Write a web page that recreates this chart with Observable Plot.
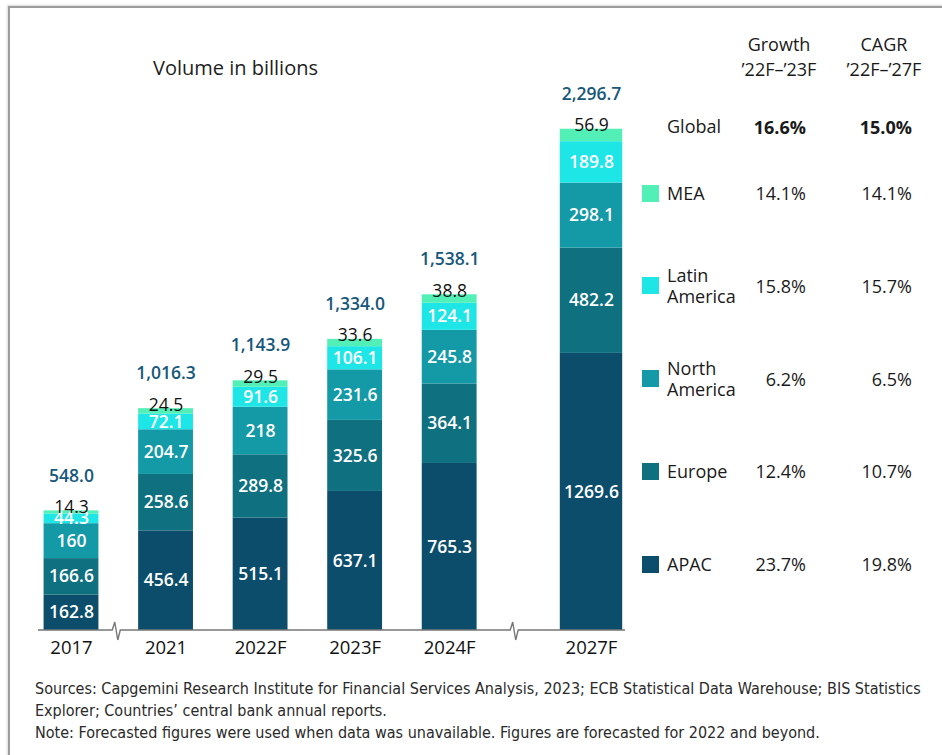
<!DOCTYPE html>
<html>
<head>
<meta charset="utf-8">
<script src="https://cdn.jsdelivr.net/npm/d3@7"></script>
<script src="https://cdn.jsdelivr.net/npm/@observablehq/plot@0.6"></script>
<style>
  html, body { margin: 0; padding: 0; background: #fff; }
  body { font-family: "Open Sans", "DejaVu Sans", sans-serif; color: #1a1a1a; }
  #wrap { position: relative; width: 942px; height: 755px; overflow: hidden; background: #fff; }
  #frame { position: absolute; left: 8px; top: 6px; width: 950px; height: 760px;
           border-left: 2px solid #9c9c9c; border-top: 2px solid #9c9c9c;
           box-shadow: -1px -1px 2px rgba(0,0,0,0.15); }
  #title { position: absolute; left: 153px; top: 54px; font-size: 20px; font-weight: 500; color: #1e1e1e; white-space: nowrap; }
  #chart { position: absolute; left: 0; top: 0; }
  #legend { position: absolute; left: 0; top: 0; width: 942px; height: 660px; }
  .hdr { position: absolute; font-size: 18px; text-align: center; width: 120px; line-height: 25px; color: #1a1a1a; font-weight: 500; }
  .lab { position: absolute; left: 667px; font-size: 18px; line-height: 21px; color: #1a1a1a; white-space: nowrap; font-weight: 500; }
  .val { position: absolute; font-size: 18px; text-align: right; width: 90px; color: #1a1a1a; line-height: 22px; font-weight: 500; }
  .sw  { position: absolute; left: 642px; width: 17px; height: 17px; }
  #notes { position: absolute; left: 35px; top: 678px; font-size: 16px; line-height: 22px; color: #2a2a2a;
           font-family: "DejaVu Sans Condensed", "DejaVu Sans", sans-serif; font-stretch: condensed; white-space: nowrap; }
</style>
</head>
<body>
<div id="wrap">
  <div id="frame"></div>
  <div id="title">Volume in billions</div>
  <div id="chart"></div>
  <div id="legend"></div>
  <div id="notes">Sources: Capgemini Research Institute for Financial Services Analysis, 2023; ECB Statistical Data Warehouse; BIS Statistics<br>Explorer; Countries’ central bank annual reports.<br>Note: Forecasted figures were used when data was unavailable. Figures are forecasted for 2022 and beyond.</div>
</div>
<script>
// ---------------- data ----------------
const years = ["2017", "2021", "2022F", "2023F", "2024F", "2027F"];
const regions = ["APAC", "Europe", "North America", "Latin America", "MEA"];
const apac = [162.8, 456.4, 515.1, 637.1, 765.3, 1269.6];
const europe = [166.6, 258.6, 289.8, 325.6, 364.1, 482.2];
const northAmerica = [160, 204.7, 218, 231.6, 245.8, 298.1];
const latinAmerica = [44.3, 72.1, 91.6, 106.1, 124.1, 189.8];
const mea = [14.3, 24.5, 29.5, 33.6, 38.8, 56.9];
const totals = [548.0, 1016.3, 1143.9, 1334.0, 1538.1, 2296.7];

// legend table (top to bottom)
const legendRegions = ["MEA", "Latin America", "North America", "Europe", "APAC"];
const growth2223 = ["14.1%", "15.8%", "6.2%", "12.4%", "23.7%"];
const cagr2227 = ["14.1%", "15.7%", "6.5%", "10.7%", "19.8%"];
const globalGrowth = "16.6%";
const globalCagr = "15.0%";

const colors = ["#0b4d6b", "#0f707f", "#1499a7", "#1ee6e6", "#52efb6"];
const totalColor = "#17587a";

// ---------------- layout helpers ----------------
// slot position of each category (extra gap before the last, broken-axis category)
const slot = i => (i < years.length - 1 ? i : i + 0.5);
const halfW = i => (i < years.length - 1 ? 0.29 : 0.33);

const seriesByRegion = [apac, europe, northAmerica, latinAmerica, mea];
const rows = [];
years.forEach((yr, i) => {
  let acc = 0;
  regions.forEach((r, k) => {
    const v = seriesByRegion[k][i];
    rows.push({year: yr, i, region: r, value: v, y1: acc, y2: acc + v, x: slot(i), x1: slot(i) - halfW(i), x2: slot(i) + halfW(i)});
    acc += v;
  });
});
const totalRows = years.map((yr, i) => ({year: yr, total: totals[i], x: slot(i)}));

const fmtTotal = d3.format(",.1f");

const plot = Plot.plot({
  width: 640,
  height: 665,
  marginLeft: 71,
  marginRight: 49,
  marginTop: 128,
  marginBottom: 35,
  x: {type: "linear", domain: [0, slot(years.length - 1)], axis: null},
  y: {domain: [0, 2300], axis: null},
  color: {domain: regions, range: colors},
  style: {fontFamily: "'Open Sans', 'DejaVu Sans', sans-serif", background: "transparent", overflow: "visible"},
  marks: [
    Plot.rect(rows, {x1: "x1", x2: "x2", y1: "y1", y2: "y2", fill: "region"}),
    Plot.text(rows.filter(d => d.region !== "MEA"), {
      x: "x", y: d => (d.y1 + d.y2) / 2, text: d => String(d.value),
      fill: "white", fontSize: 17.5, fontWeight: 600
    }),
    Plot.text(rows.filter(d => d.region === "MEA"), {
      x: "x", y: "y2", text: d => String(d.value), lineAnchor: "bottom", dy: 2,
      fill: "#111", fontSize: 17.5, fontWeight: 500
    }),
    Plot.text(totalRows, {
      x: "x", y: "total", text: d => fmtTotal(d.total), dy: -35,
      fill: totalColor, fontSize: 17.5, fontWeight: 600
    }),
    Plot.text(years.map((y, i) => ({label: y, x: slot(i)})), {
      x: "x", y: () => 0, text: "label", dy: 18, fill: "#111", fontSize: 18.5, fontWeight: 500
    })
  ]
});
document.getElementById("chart").appendChild(plot);

// baseline with axis-break marks, placed with the plot's own scales
const sx = plot.scale("x"), sy = plot.scale("y");
const y0 = sy.apply(0);
const xStart = sx.apply(slot(0) - 0.35);
const xEnd = sx.apply(slot(years.length - 1) + 0.36);
const breaks = [
  sx.apply((slot(0) + halfW(0) + slot(1) - halfW(1)) / 2) - 2,
  sx.apply((slot(4) + halfW(4) + slot(5) - halfW(5)) / 2) - 4
];
let p = `M${xStart},${y0}`;
breaks.forEach(bx => {
  p += ` L${bx - 4},${y0} L${bx - 1.5},${y0 - 8} L${bx + 1.5},${y0 + 10} L${bx + 4},${y0}`;
});
p += ` L${xEnd},${y0}`;
d3.select(plot).append("path").attr("d", p).attr("fill", "none").attr("stroke", "#777").attr("stroke-width", 1.4);

// ---------------- legend / growth table ----------------
const lg = document.getElementById("legend");
function add(cls, html, style) {
  const el = document.createElement("div");
  el.className = cls;
  el.innerHTML = html;
  Object.assign(el.style, style);
  lg.appendChild(el);
  return el;
}
add("hdr", "Growth<br>’22F–’23F", {left: "719px", top: "32px"});
add("hdr", "CAGR<br>’22F–’27F", {left: "824px", top: "32px"});

add("lab", "Global", {top: "116px"});
add("val", globalGrowth, {left: "716px", top: "116px", fontWeight: "700"});
add("val", globalCagr, {left: "822px", top: "116px", fontWeight: "700"});

legendRegions.forEach((r, k) => {
  const cy = 193 + k * 92.8;
  const lines = r.split(" ");
  const h = lines.length * 21;
  add("lab", lines.join("<br>"), {top: (cy - h / 2) + "px"});
  add("sw", "", {top: (cy - 8.5) + "px", background: colors[regions.indexOf(r)]});
  add("val", growth2223[k], {left: "716px", top: (cy - 11) + "px"});
  add("val", cagr2227[k], {left: "822px", top: (cy - 11) + "px"});
});
</script>
</body>
</html>
